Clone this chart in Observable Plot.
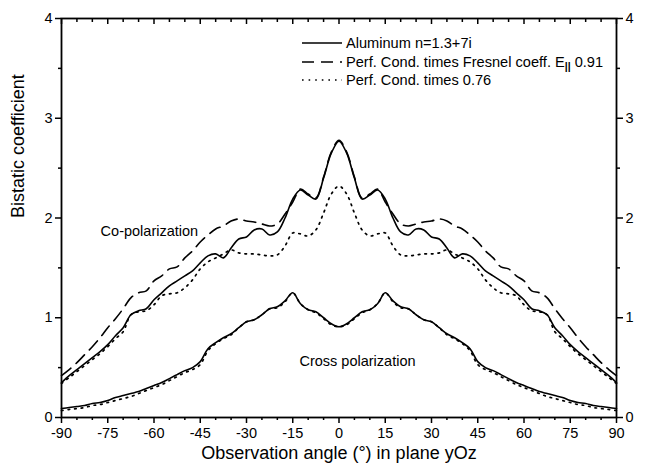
<!DOCTYPE html>
<html>
<head>
<meta charset="utf-8">
<script src="https://cdn.jsdelivr.net/npm/d3@7"></script>
<script src="https://cdn.jsdelivr.net/npm/@observablehq/plot@0.6"></script>
<style>
  html, body { margin: 0; padding: 0; background: #fff; }
  #chart svg { display: block; }
</style>
</head>
<body>
<div id="chart"></div>
<script>
// ---- data ----
const angles = [-90,-87.5,-85,-82.5,-80,-77.5,-75,-72.5,-70,-67.5,-65,-62.5,-60,-57.5,-55,-52.5,-50,-47.5,-45,-42.5,-40,-37.5,-35,-32.5,-30,-27.5,-25,-22.5,-20,-17.5,-15,-12.5,-10,-7.5,-5,-2.5,0,2.5,5,7.5,10,12.5,15,17.5,20,22.5,25,27.5,30,32.5,35,37.5,40,42.5,45,47.5,50,52.5,55,57.5,60,62.5,65,67.5,70,72.5,75,77.5,80,82.5,85,87.5,90];

const coAluminum = [0.35,0.42,0.48,0.54,0.60,0.66,0.73,0.82,0.90,1.03,1.07,1.09,1.18,1.25,1.32,1.37,1.42,1.47,1.55,1.62,1.64,1.60,1.70,1.79,1.81,1.88,1.89,1.83,1.86,2.00,2.19,2.28,2.23,2.19,2.40,2.65,
  2.77,
  2.65,2.40,2.19,2.23,2.28,2.19,2.00,1.86,1.83,1.89,1.88,1.81,1.79,1.70,1.60,1.64,1.62,1.55,1.47,1.42,1.37,1.32,1.25,1.18,1.09,1.07,1.03,0.90,0.82,0.73,0.66,0.60,0.54,0.48,0.42,0.35];

const coFresnel = [0.42,0.48,0.55,0.63,0.71,0.80,0.90,0.99,1.09,1.20,1.25,1.27,1.37,1.42,1.49,1.51,1.60,1.67,1.76,1.83,1.89,1.92,1.97,1.99,1.97,1.96,1.94,1.92,1.94,2.04,2.16,2.29,2.24,2.20,2.41,2.66,
  2.78,
  2.66,2.41,2.20,2.24,2.29,2.16,2.04,1.94,1.92,1.94,1.96,1.97,1.99,1.97,1.92,1.89,1.83,1.76,1.67,1.60,1.51,1.49,1.42,1.37,1.27,1.25,1.20,1.09,0.99,0.90,0.80,0.71,0.63,0.55,0.48,0.42];

const coScaled = [0.34,0.40,0.46,0.52,0.58,0.64,0.71,0.79,0.86,1.03,1.06,1.07,1.13,1.22,1.24,1.25,1.30,1.38,1.49,1.56,1.60,1.64,1.68,1.65,1.64,1.64,1.63,1.62,1.63,1.72,1.85,1.84,1.82,1.88,2.05,2.24,
  2.32,
  2.24,2.05,1.88,1.82,1.84,1.85,1.72,1.63,1.62,1.63,1.64,1.64,1.65,1.68,1.64,1.60,1.56,1.49,1.38,1.30,1.25,1.24,1.22,1.13,1.07,1.06,1.03,0.86,0.79,0.71,0.64,0.58,0.52,0.46,0.40,0.34];

const crossAluminum = [0.09,0.10,0.11,0.12,0.14,0.15,0.17,0.20,0.22,0.24,0.26,0.29,0.32,0.35,0.39,0.43,0.47,0.50,0.56,0.69,0.75,0.80,0.84,0.90,0.96,0.98,1.03,1.09,1.11,1.17,1.25,1.14,1.08,1.06,1.00,0.94,
  0.91,
  0.94,1.00,1.06,1.08,1.14,1.25,1.17,1.11,1.09,1.03,0.98,0.96,0.90,0.84,0.80,0.75,0.69,0.56,0.50,0.47,0.43,0.39,0.35,0.32,0.29,0.26,0.24,0.22,0.20,0.17,0.15,0.14,0.12,0.11,0.10,0.09];

const crossScaled = [0.07,0.08,0.09,0.10,0.12,0.13,0.15,0.17,0.19,0.21,0.24,0.27,0.30,0.33,0.37,0.41,0.45,0.48,0.53,0.67,0.74,0.79,0.83,0.90,0.96,0.98,1.03,1.09,1.10,1.16,1.25,1.14,1.08,1.05,0.99,0.93,
  0.91,
  0.93,0.99,1.05,1.08,1.14,1.25,1.16,1.10,1.09,1.03,0.98,0.96,0.90,0.83,0.79,0.74,0.67,0.53,0.48,0.45,0.41,0.37,0.33,0.30,0.27,0.24,0.21,0.19,0.17,0.15,0.13,0.12,0.10,0.09,0.08,0.07];

const xMajorTicks = [-90,-75,-60,-45,-30,-15,0,15,30,45,60,75,90];
const xMinorTicks = [-85,-80,-70,-65,-55,-50,-40,-35,-25,-20,-10,-5,5,10,20,25,35,40,50,55,65,70,80,85];
const yMajorTicks = [0,1,2,3,4];
const yMinorTicks = [0.5,1.5,2.5,3.5];

const xTitle = "Observation angle (°) in plane yOz";
const yTitle = "Bistatic coefficient";
const legendLabels = ["Aluminum n=1.3+7i", "Perf. Cond. times Fresnel coeff. E", "Perf. Cond. times 0.76"];
const annotations = [
  {x: -61.5, y: 1.87, text: "Co-polarization"},
  {x: 6, y: 0.56, text: "Cross polarization"}
];

// ---- build table ----
const rows = (vals) => angles.map((a, i) => ({angle: a, value: vals[i]}));

const font = "'Liberation Sans', Arial, Helvetica, sans-serif";
const dashPattern = "12,7";
const dotPattern = "1.6,5";
const fs = 14.5;
const legendFs = 14.6;

const chart = Plot.plot({
  width: 645,
  height: 470,
  marginLeft: 61,
  marginRight: 29,
  marginTop: 18,
  marginBottom: 53,
  style: {fontFamily: font, fontSize: fs + "px", background: "#fff", color: "#000", overflow: "visible"},
  x: {domain: [-90, 90]},
  y: {domain: [0, 4]},
  marks: [
    // axes
    Plot.axisX({anchor: "bottom", ticks: xMajorTicks, tickSize: 6, tickPadding: 4, tickFormat: d => String(d), label: null, strokeWidth: 1.5, fontSize: fs}),
    Plot.axisX({anchor: "bottom", ticks: xMinorTicks, tickSize: 3, tickFormat: () => "", label: null, strokeWidth: 1.5}),
    Plot.axisX({anchor: "top", ticks: xMajorTicks, tickSize: -5, tickFormat: () => "", label: null, strokeWidth: 1.5}),
    Plot.axisX({anchor: "top", ticks: xMinorTicks, tickSize: -3, tickFormat: () => "", label: null, strokeWidth: 1.5}),
    Plot.axisY({anchor: "left", ticks: yMajorTicks, tickSize: 6, tickPadding: 3, tickFormat: d => String(d), label: null, strokeWidth: 1.5, fontSize: fs}),
    Plot.axisY({anchor: "left", ticks: yMinorTicks, tickSize: 3, tickFormat: () => "", label: null, strokeWidth: 1.5}),
    Plot.axisY({anchor: "right", ticks: yMajorTicks, tickSize: 6, tickPadding: 3, tickFormat: d => String(d), label: null, strokeWidth: 1.5, fontSize: fs}),
    Plot.axisY({anchor: "right", ticks: yMinorTicks, tickSize: 3, tickFormat: () => "", label: null, strokeWidth: 1.5}),
    Plot.frame({stroke: "#000", strokeWidth: 1.8}),
    // curves
    Plot.line(rows(coFresnel), {x: "angle", y: "value", stroke: "#000", strokeWidth: 1.6, strokeDasharray: dashPattern, curve: "catmull-rom"}),
    Plot.line(rows(coScaled), {x: "angle", y: "value", stroke: "#000", strokeWidth: 1.7, strokeDasharray: dotPattern, curve: "catmull-rom"}),
    Plot.line(rows(crossScaled), {x: "angle", y: "value", stroke: "#000", strokeWidth: 1.7, strokeDasharray: dotPattern, curve: "catmull-rom"}),
    Plot.line(rows(coAluminum), {x: "angle", y: "value", stroke: "#000", strokeWidth: 1.6, curve: "catmull-rom"}),
    Plot.line(rows(crossAluminum), {x: "angle", y: "value", stroke: "#000", strokeWidth: 1.6, curve: "catmull-rom"}),
    // annotations
    Plot.text(annotations, {x: "x", y: "y", text: "text", fontSize: fs, fill: "#000"}),
    // axis titles
    Plot.text([xTitle], {frameAnchor: "bottom", dy: 41, fontSize: 18, fill: "#000"}),
    Plot.text([yTitle], {frameAnchor: "left", dx: -43, rotate: -90, fontSize: 18, fill: "#000"})
  ]
});

// ---- legend (top-right inside the frame) ----
const svg = d3.select(chart);
const lx0 = 302, lx1 = 342, tx = 346;
const ly = [18 + 25, 18 + 44, 18 + 62];
const styles = [null, dashPattern, dotPattern];
const g = svg.append("g")
  .attr("font-family", font).attr("font-size", legendFs)
  .attr("fill", "#000").attr("text-anchor", "start");
legendLabels.forEach((lab, i) => {
  const line = g.append("line").attr("x1", lx0).attr("x2", lx1).attr("y1", ly[i]).attr("y2", ly[i])
    .attr("stroke", "#000").attr("stroke-width", 1.6);
  if (styles[i]) line.attr("stroke-dasharray", styles[i]);
  const t = g.append("text").attr("x", tx).attr("y", ly[i]).attr("dy", "0.36em").text(lab);
  if (i === 1) {
    t.append("tspan").attr("font-size", 10.5).attr("dy", "3").attr("font-weight", "bold").text("||");
    t.append("tspan").attr("dy", "-3").text(" 0.91");
  }
});

document.getElementById("chart").appendChild(chart);
</script>
</body>
</html>
